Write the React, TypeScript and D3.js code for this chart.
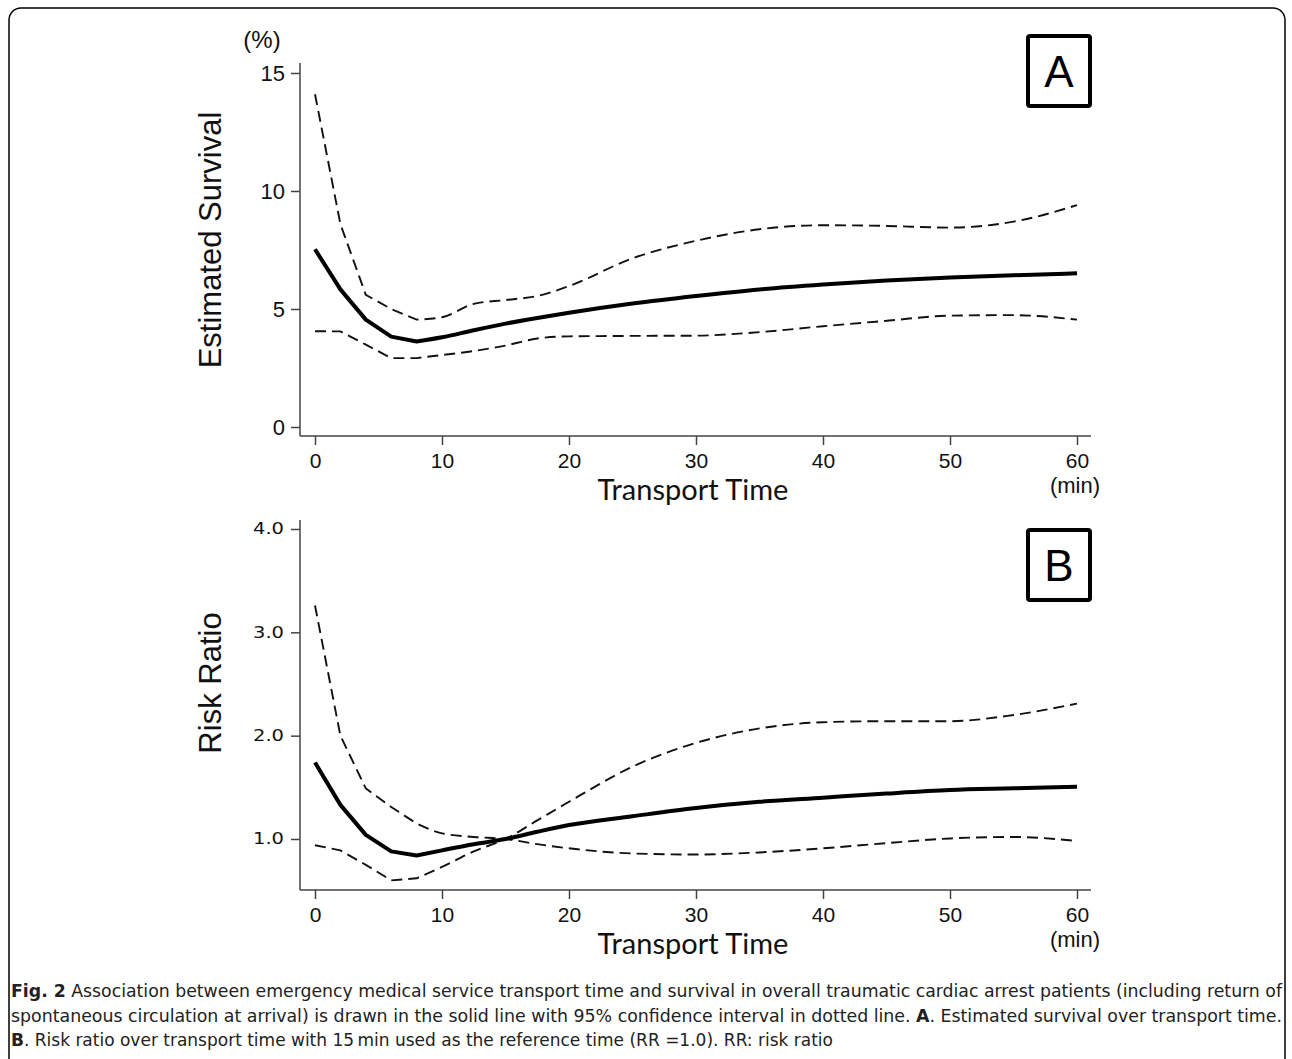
import React, { useEffect, useRef } from 'react';
import * as d3 from 'd3';

// transport time (min) at which the curves were read
const times = [0, 2, 4, 6, 8, 10, 12.5, 15, 17.5, 20, 25, 30, 35, 40, 45, 50, 55, 60];

// panel A: estimated survival (%)
const survEst = [7.53, 5.83, 4.55, 3.83, 3.62, 3.8, 4.1, 4.38, 4.62, 4.84, 5.23, 5.55, 5.83, 6.04, 6.21, 6.33, 6.43, 6.51];
const survUpper = [14.1, 8.6, 5.6, 5.0, 4.55, 4.65, 5.22, 5.38, 5.55, 5.97, 7.15, 7.89, 8.38, 8.55, 8.52, 8.45, 8.7, 9.4];
const survLower = [4.06, 4.05, 3.49, 2.92, 2.92, 3.05, 3.22, 3.45, 3.75, 3.84, 3.86, 3.87, 4.02, 4.27, 4.5, 4.72, 4.74, 4.55];

// panel B: risk ratio (ref 15 min)
const rrEst = [1.74, 1.33, 1.04, 0.88, 0.84, 0.89, 0.95, 1.0, 1.07, 1.135, 1.22, 1.3, 1.36, 1.4, 1.44, 1.474, 1.49, 1.506];
const rrCi1 = [3.26, 2.0, 1.49, 1.31, 1.15, 1.055, 1.02, 1.0, 0.95, 0.91, 0.86, 0.85, 0.87, 0.91, 0.96, 1.005, 1.02, 0.98];
const rrCi2 = [0.94, 0.89, 0.75, 0.6, 0.62, 0.73, 0.88, 1.0, 1.18, 1.36, 1.7, 1.93, 2.07, 2.13, 2.14, 2.14, 2.2, 2.31];

const xTicks = [0, 10, 20, 30, 40, 50, 60];
const yTicksA = [0, 5, 10, 15];
const yTicksB = [1, 2, 3, 4];

const captionLines = [
  ['Fig. 2', ' Association between emergency medical service transport time and survival in overall traumatic cardiac arrest patients (including return of'],
  ['', 'spontaneous circulation at arrival) is drawn in the solid line with 95% confidence interval in dotted line. ', 'A', '. Estimated survival over transport time.'],
  ['B', '. Risk ratio over transport time with 15\u2009min used as the reference time (RR =1.0). RR: risk ratio'],
];

const App = () => {
  const ref = useRef(null);

  useEffect(() => {
    const svg = d3.select(ref.current);
    svg.selectAll('*').remove();

    const arial = "'Liberation Sans', Arial, sans-serif";
    const x = d3.scaleLinear().domain([0, 60]).range([315, 1077]);

    const panels = [
      {
        y: d3.scaleLinear().domain([0, 15]).range([427, 73]),
        top: 63, bottom: 436, ticks: yTicksA, fmt: d3.format('d'),
        est: survEst, ci: [survUpper, survLower],
        ylab: 'Estimated Survival', ylabY: 240, letter: 'A', boxY: 34,
      },
      {
        y: d3.scaleLinear().domain([1, 4]).range([839, 529]),
        top: 520, bottom: 890, ticks: yTicksB, fmt: d3.format('.1f'),
        est: rrEst, ci: [rrCi1, rrCi2],
        ylab: 'Risk Ratio', ylabY: 683, letter: 'B', boxY: 528,
      },
    ];

    panels.forEach((p, i) => {
      const g = svg.append('g');

      // y axis
      const ya = g.append('g')
        .attr('transform', 'translate(300,0)')
        .call(d3.axisLeft(p.y).tickValues(p.ticks).tickSize(9).tickPadding(6).tickFormat(p.fmt));
      ya.select('.domain').remove();
      ya.selectAll('.tick line').attr('stroke', '#444').attr('stroke-width', 1.5);
      if (i === 0) {
        ya.selectAll('.tick text').attr('font-family', arial).attr('font-size', 22).attr('fill', '#111');
      } else {
        ya.selectAll('.tick text')
          .attr('font-family', 'DejaVu Sans, sans-serif').attr('font-size', 15).attr('fill', '#111')
          .attr('textLength', 31).attr('lengthAdjust', 'spacingAndGlyphs').attr('dx', -1);
      }
      g.append('line').attr('x1', 300).attr('x2', 300).attr('y1', p.top).attr('y2', p.bottom)
        .attr('stroke', '#444').attr('stroke-width', 1.5);

      // x axis
      const xa = g.append('g')
        .attr('transform', `translate(0,${p.bottom})`)
        .call(d3.axisBottom(x).tickValues(xTicks).tickSize(9).tickPadding(8));
      xa.select('.domain').remove();
      xa.selectAll('.tick line').attr('stroke', '#444').attr('stroke-width', 1.5);
      xa.selectAll('.tick text').attr('font-family', arial).attr('font-size', 21).attr('fill', '#111');
      g.append('line').attr('x1', 300).attr('x2', 1091).attr('y1', p.bottom).attr('y2', p.bottom)
        .attr('stroke', '#444').attr('stroke-width', 1.5);

      g.append('text').attr('x', 1075).attr('y', p.bottom + 57).attr('text-anchor', 'middle')
        .attr('font-family', arial).attr('font-size', 22).attr('fill', '#111').text('(min)');
      g.append('text').attr('x', 693).attr('y', p.bottom + 64).attr('text-anchor', 'middle')
        .attr('font-family', 'Lato, Open Sans, sans-serif').attr('font-size', 29).attr('fill', '#111')
        .text('Transport Time');

      g.append('text')
        .attr('transform', `translate(221,${p.ylabY}) rotate(-90)`)
        .attr('text-anchor', 'middle')
        .attr('font-family', arial).attr('font-size', 31).attr('fill', '#111')
        .text(p.ylab);

      // lines: straight segments over the first minutes, smooth afterwards
      const pts = (vals) => vals.map((v, k) => [x(times[k]), p.y(v)]);
      const lin = d3.line().curve(d3.curveLinear);
      const smooth = d3.line().curve(d3.curveMonotoneX);
      const path = (vals) => {
        const all = pts(vals);
        const cut = times.indexOf(8);
        return lin(all.slice(0, cut + 1)) + smooth(all.slice(cut)).replace(/^M/, 'L');
      };

      p.ci.forEach((c) => {
        g.append('path').attr('d', path(c)).attr('fill', 'none')
          .attr('stroke', '#111').attr('stroke-width', 1.9).attr('stroke-dasharray', '11,6');
      });
      g.append('path').attr('d', path(p.est)).attr('fill', 'none')
        .attr('stroke', '#000').attr('stroke-width', 4).attr('stroke-linejoin', 'round');

      // panel letter box
      g.append('rect').attr('x', 1028).attr('y', p.boxY + 2).attr('width', 62).attr('height', 70)
        .attr('rx', 2).attr('fill', 'none').attr('stroke', '#000').attr('stroke-width', 4);
      g.append('text').attr('x', 1059).attr('y', p.boxY + 53).attr('text-anchor', 'middle')
        .attr('font-family', arial).attr('font-size', 44).attr('fill', '#000').text(p.letter);
    });

    svg.append('text').attr('x', 262).attr('y', 48).attr('text-anchor', 'middle')
      .attr('font-family', arial).attr('font-size', 24).attr('fill', '#111').text('(%)');

    // caption
    const capY = [997, 1022, 1046];
    const capW = [1271, 1271, 822];
    captionLines.forEach((parts, i) => {
      const t = svg.append('text').attr('x', 11).attr('y', capY[i])
        .attr('font-family', "'Liberation Sans Narrow', 'DejaVu Sans Condensed', Roboto, sans-serif")
        .attr('font-size', 18).attr('fill', '#222')
        .attr('textLength', capW[i]).attr('lengthAdjust', 'spacingAndGlyphs');
      const boldIdx = i === 1 ? [2] : [0];
      parts.forEach((s, k) => {
        if (!s) return;
        t.append('tspan').attr('font-weight', boldIdx.includes(k) ? 'bold' : 'normal').text(s);
      });
    });

    // outer frame
    svg.append('rect').attr('x', 9).attr('y', 8).attr('width', 1276).attr('height', 1080)
      .attr('rx', 12).attr('fill', 'none').attr('stroke', '#000').attr('stroke-width', 1.5);
  }, []);

  return (
    <svg ref={ref} width={1292} height={1059}
      style={{ position: 'absolute', left: 0, top: 0, background: '#fff' }} />
  );
};

export default App;
